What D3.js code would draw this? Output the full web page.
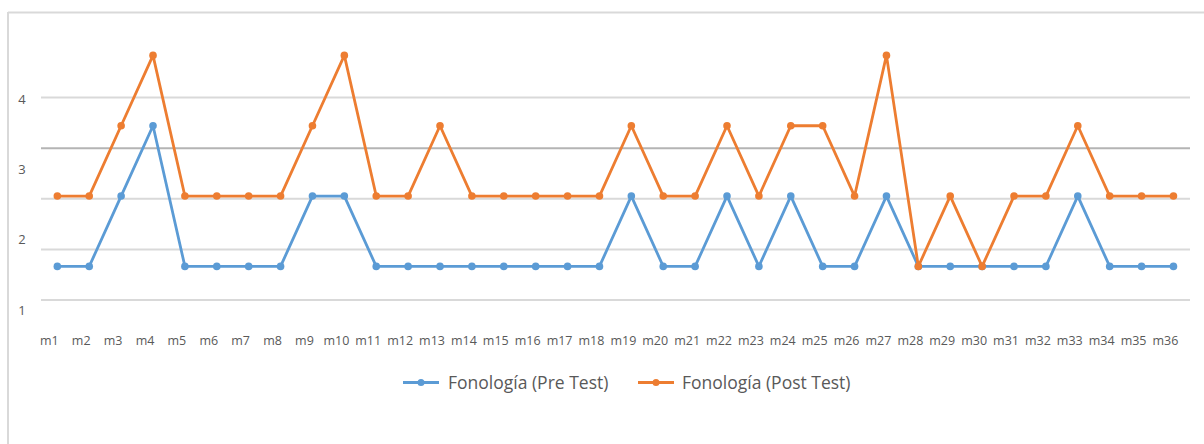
<!DOCTYPE html>
<html>
<head>
<meta charset="utf-8">
<script src="https://cdn.jsdelivr.net/npm/d3@7"></script>
<style>
  html, body { margin: 0; padding: 0; background: #fff; }
  svg { display: block; }
  text { font-family: "Open Sans", "Liberation Sans", sans-serif; fill: #595959; }
</style>
</head>
<body>
<script>
// ---- data ----
const categories = ["m1","m2","m3","m4","m5","m6","m7","m8","m9","m10","m11","m12",
  "m13","m14","m15","m16","m17","m18","m19","m20","m21","m22","m23","m24",
  "m25","m26","m27","m28","m29","m30","m31","m32","m33","m34","m35","m36"];
const preTest = [1.62,1.62,2.62,3.62,1.62,1.62,1.62,1.62,2.62,2.62,1.62,1.62,
  1.62,1.62,1.62,1.62,1.62,1.62,2.62,1.62,1.62,2.62,1.62,2.62,
  1.62,1.62,2.62,1.62,1.62,1.62,1.62,1.62,2.62,1.62,1.62,1.62];
const postTest = [2.62,2.62,3.62,4.62,2.62,2.62,2.62,2.62,3.62,4.62,2.62,2.62,
  3.62,2.62,2.62,2.62,2.62,2.62,3.62,2.62,2.62,3.62,2.62,3.62,
  3.62,2.62,4.62,1.62,2.62,1.62,2.62,2.62,3.62,2.62,2.62,2.62];
const seriesNames = ["Fonología (Pre Test)", "Fonología (Post Test)"];
const yTickLabels = [1, 2, 3, 4];
const gridSteps = [0, 1, 2, 3, 4];

const colors = ["#5B9BD5", "#ED7D31"];
const W = 1204, H = 444;

const svg = d3.select("body").append("svg").attr("width", W).attr("height", H);

// chart frame
svg.append("line").attr("x1", 8).attr("x2", W).attr("y1", 12.5).attr("y2", 12.5)
  .attr("stroke", "#d9d9d9").attr("stroke-width", 2);
svg.append("line").attr("x1", 8).attr("x2", 8).attr("y1", 12).attr("y2", H)
  .attr("stroke", "#d9d9d9").attr("stroke-width", 2);

const x = d3.scaleBand().domain(categories).range([41.4, 1189.4]);
const y = d3.scaleLinear().domain([1, 4]).range([310, 99]);
const grid = d3.scaleLinear().domain([0, 4]).range([300, 97.5]);

// gridlines
svg.append("g").selectAll("line").data(gridSteps).join("line")
  .attr("x1", 41).attr("x2", 1190)
  .attr("y1", d => grid(d)).attr("y2", d => grid(d))
  .attr("stroke", (d, i) => i === 3 ? "#b4b4b4" : "#d9d9d9")
  .attr("stroke-width", 2);

// y labels
svg.append("g").selectAll("text").data(yTickLabels).join("text")
  .attr("x", 22).attr("y", d => y(d)).attr("dy", "0.35em")
  .attr("text-anchor", "middle").attr("font-size", 13)
  .text(d => d);

// x labels
svg.append("g").selectAll("text").data(categories).join("text")
  .attr("x", d => x(d) + x.bandwidth() / 2 - 8).attr("y", 341).attr("dy", "0.35em")
  .attr("text-anchor", "middle").attr("font-size", 12.5)
  .text(d => d);

// series
const series = [preTest, postTest];
const line = d3.line().x((d, i) => x(categories[i]) + x.bandwidth() / 2).y(d => y(d));
series.forEach((vals, s) => {
  const g = svg.append("g");
  g.append("path").datum(vals).attr("d", line)
    .attr("fill", "none").attr("stroke", colors[s]).attr("stroke-width", 2.8)
    .attr("stroke-linejoin", "round");
  g.selectAll("circle").data(vals).join("circle")
    .attr("cx", (d, i) => x(categories[i]) + x.bandwidth() / 2)
    .attr("cy", d => y(d)).attr("r", 3.8).attr("fill", colors[s]);
});

// legend
const legendItems = [{x: 403, tx: 448}, {x: 638, tx: 682}];
legendItems.forEach((p, i) => {
  const g = svg.append("g");
  g.append("line").attr("x1", p.x).attr("x2", p.x + 36).attr("y1", 382.5).attr("y2", 382.5)
    .attr("stroke", colors[i]).attr("stroke-width", 2.8);
  g.append("circle").attr("cx", p.x + 18).attr("cy", 382.5).attr("r", 3.5).attr("fill", colors[i]);
  g.append("text").attr("x", p.tx).attr("y", 382.5).attr("dy", "0.35em")
    .attr("font-size", 17.5).text(seriesNames[i]);
});
</script>
</body>
</html>
